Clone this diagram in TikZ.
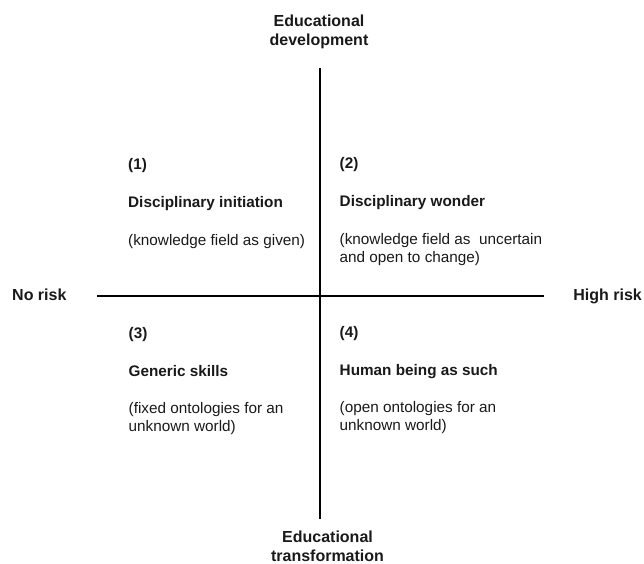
\documentclass[tikz,border=0pt]{standalone}
\usepackage{fontspec}
\setmainfont{Liberation Sans}
\usetikzlibrary{positioning}

\begin{document}
\begin{tikzpicture}[x=1pt, y=-1pt]
        % ================= styles =================
        \tikzset{
            % axes
            axis/.style={line width=2pt, black},
            % texts at the ends of the axes (base = last line)
            axislabel/.style={font=\fontsize{16}{19}\selectfont\bfseries, align=center, anchor=base, inner sep=0pt, text=black!90},
            % quadrant texts
            qnum/.style={font=\fontsize{15.3}{18}\selectfont\bfseries, anchor=base west, inner sep=0pt, text=black!90},
            qtitle/.style={qnum},
            qdesc/.style={font=\fontsize{15.3}{18}\selectfont, align=left, anchor=base west, inner sep=0pt, text=black!90}
        }
        \useasboundingbox (0,0) rectangle (644,563);

        % ================= 1. axes =================
        \coordinate (top) at (319.5,68);
        \coordinate (bottom) at (319.5,518.5);
        \coordinate (left) at (97,295.5);
        \coordinate (right) at (543.5,295.5);

        \draw[axis] (top) -- (bottom);
        \draw[axis] (left) -- (right);

        \node[axislabel] (dev) at (319,45.5) {Educational\\development};
        \node[axislabel] (trans) at (327.5,561) {Educational\\transformation};
        \node[axislabel, anchor=base west] (norisk) at (12,300.5) {No risk};
        \node[axislabel, anchor=base east] (highrisk) at (642,300) {High risk};

        % ================= 2. upper left: (1) =================
        \begin{scope}[shift={(128,169)}]
            \node[qnum] (q1num) at (0,0) {(1)};
            \node[qtitle] (q1title) at (0,38.5) {Disciplinary initiation};
            \node[qdesc] (q1desc) at (0,76) {(knowledge field as given)};
        \end{scope}

        % ================= 3. upper right: (2) =================
        \begin{scope}[shift={(339.5,168)}]
            \node[qnum] (q2num) at (0,0) {(2)};
            \node[qtitle] (q2title) at (0,38.5) {Disciplinary wonder};
            % two lines: base sits on the second one
            \node[qdesc] (q2desc) at (0,94) {(knowledge field as\ \ uncertain\\and open to change)};
        \end{scope}

        % ================= 4. lower left: (3) =================
        \begin{scope}[shift={(128.5,338)}]
            \node[qnum] (q3num) at (0,0) {(3)};
            \node[qtitle] (q3title) at (0,38) {Generic skills};
            \node[qdesc] (q3desc) at (0,93) {(fixed ontologies for an\\unknown world)};
        \end{scope}

        % ================= 5. lower right: (4) =================
        \begin{scope}[shift={(339.5,337)}]
            \node[qnum] (q4num) at (0,0) {(4)};
            \node[qtitle] (q4title) at (0,38) {Human being as such};
            \node[qdesc] (q4desc) at (0,93) {(open ontologies for an\\unknown world)};
        \end{scope}

    \end{tikzpicture}
\end{document}
